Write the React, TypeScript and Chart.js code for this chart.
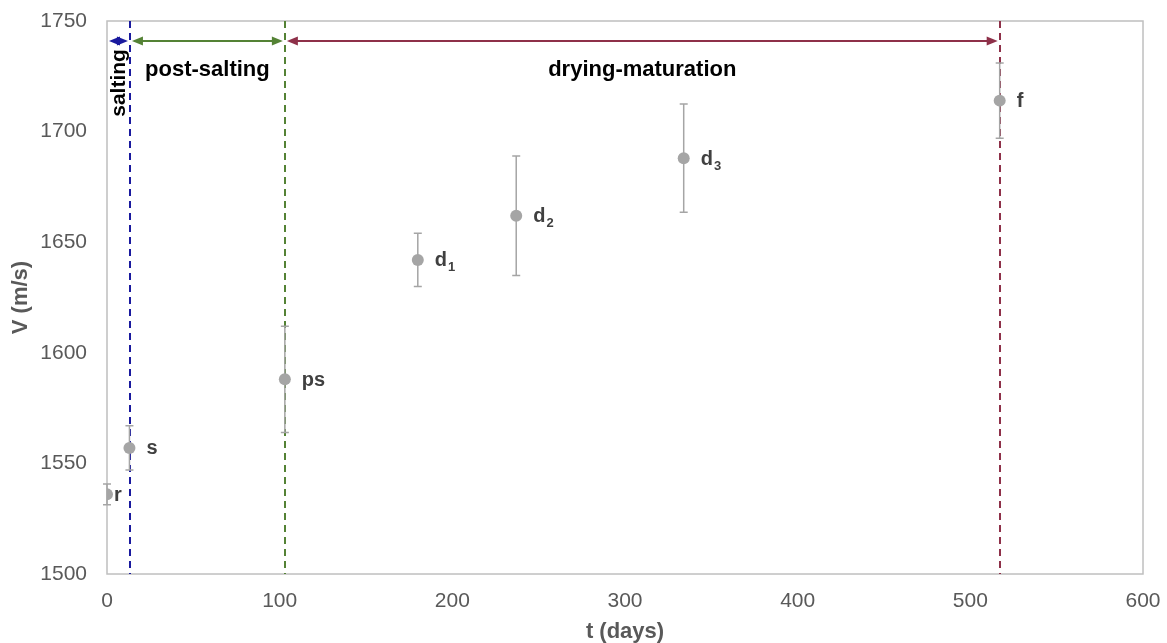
import React, { useEffect, useRef } from "react";
import { Chart, registerables } from "chart.js";

Chart.register(...registerables);

// Sampling times (days) and ultrasonic velocity (m/s) with standard deviations
const days = [0, 13, 103, 180, 237, 334, 517];
const velocity = [1536, 1557, 1588, 1642, 1662, 1688, 1714];
const stdDev = [4.7, 10, 24, 12, 27, 24.5, 17];
const pointNames = ["r", "s", "ps", "d", "d", "d", "f"];
const pointSubs = ["", "", "", "1", "2", "3", ""];

// Process stages: boundaries in days
const stageNames = ["salting", "post-salting", "drying-maturation"];
const stageBounds = [0, 13.3, 103, 517];
const stageColors = ["#1a1a9e", "#548235", "#8e3049"];

const xTicks = [0, 100, 200, 300, 400, 500, 600];

const FONT = "'Liberation Sans', Arial, sans-serif";

const overlayPlugin = {
  id: "overlay",
  beforeDatasetsDraw(chart: any) {
    const { ctx, chartArea, scales } = chart;
    const xs = scales.x;
    const ys = scales.y;
    ctx.save();
    // frame round the plot area
    ctx.strokeStyle = "#bfbfbf";
    ctx.lineWidth = 1.5;
    ctx.strokeRect(chartArea.left, chartArea.top, chartArea.right - chartArea.left, chartArea.bottom - chartArea.top);

    // dashed stage boundaries
    ctx.lineWidth = 2;
    ctx.setLineDash([7, 5]);
    for (let i = 1; i < stageBounds.length; i++) {
      const px = Math.round(xs.getPixelForValue(stageBounds[i]));
      ctx.strokeStyle = stageColors[i - 1];
      ctx.beginPath();
      ctx.moveTo(px, chartArea.top);
      ctx.lineTo(px, chartArea.bottom);
      ctx.stroke();
    }
    ctx.setLineDash([]);

    // error bars
    ctx.strokeStyle = "#a5a5a5";
    ctx.lineWidth = 1.5;
    for (let i = 0; i < days.length; i++) {
      const px = xs.getPixelForValue(days[i]);
      const hi = ys.getPixelForValue(velocity[i] + stdDev[i]);
      const lo = ys.getPixelForValue(velocity[i] - stdDev[i]);
      ctx.beginPath();
      ctx.moveTo(px, hi);
      ctx.lineTo(px, lo);
      ctx.moveTo(px - 4, hi);
      ctx.lineTo(px + 4, hi);
      ctx.moveTo(px - 4, lo);
      ctx.lineTo(px + 4, lo);
      ctx.stroke();
    }
    ctx.restore();
  },
  afterDatasetsDraw(chart: any) {
    const { ctx, scales } = chart;
    const xs = scales.x;
    const ys = scales.y;
    ctx.save();

    // stage arrows
    const ay = ys.getPixelForValue(1741);
    const head = 11;
    const hh = 4.5;
    for (let i = 0; i < stageNames.length; i++) {
      const x1 = xs.getPixelForValue(stageBounds[i]) + 2;
      const x2 = xs.getPixelForValue(stageBounds[i + 1]) - 2;
      ctx.strokeStyle = stageColors[i];
      ctx.fillStyle = stageColors[i];
      ctx.lineWidth = 2;
      ctx.beginPath();
      ctx.moveTo(x1 + head - 1, ay);
      ctx.lineTo(x2 - head + 1, ay);
      ctx.stroke();
      ctx.beginPath();
      ctx.moveTo(x1, ay);
      ctx.lineTo(x1 + head, ay - hh);
      ctx.lineTo(x1 + head, ay + hh);
      ctx.closePath();
      ctx.fill();
      ctx.beginPath();
      ctx.moveTo(x2, ay);
      ctx.lineTo(x2 - head, ay - hh);
      ctx.lineTo(x2 - head, ay + hh);
      ctx.closePath();
      ctx.fill();
    }

    // stage names
    ctx.fillStyle = "#000000";
    ctx.font = `bold 22px ${FONT}`;
    ctx.textBaseline = "middle";
    const ty = ys.getPixelForValue(1728);
    for (let i = 1; i < stageNames.length; i++) {
      const mid = (xs.getPixelForValue(stageBounds[i]) + xs.getPixelForValue(stageBounds[i + 1])) / 2;
      ctx.textAlign = "center";
      ctx.fillText(stageNames[i], mid, ty);
    }
    // rotated name of the short first stage
    const sx = (xs.getPixelForValue(stageBounds[0]) + xs.getPixelForValue(stageBounds[1])) / 2 + 1;
    ctx.save();
    ctx.translate(sx, ys.getPixelForValue(1722));
    ctx.rotate(-Math.PI / 2);
    ctx.textAlign = "center";
    ctx.font = `bold 21px ${FONT}`;
    ctx.fillText(stageNames[0], 0, 0);
    ctx.restore();

    // point labels with subscripts
    ctx.fillStyle = "#404040";
    ctx.textAlign = "left";
    ctx.textBaseline = "middle";
    for (let i = 0; i < days.length; i++) {
      const px = xs.getPixelForValue(days[i]) + (i === 0 ? 7 : 17);
      const py = ys.getPixelForValue(velocity[i]) + 1;
      ctx.font = `bold 20px ${FONT}`;
      ctx.fillText(pointNames[i], px, py);
      if (pointSubs[i]) {
        const w = ctx.measureText(pointNames[i]).width;
        ctx.font = `bold 13px ${FONT}`;
        ctx.fillText(pointSubs[i], px + w + 1, py + 7);
      }
    }
    ctx.restore();
  },
};

export default function App() {
  const canvasRef = useRef<HTMLCanvasElement | null>(null);

  useEffect(() => {
    document.body.style.margin = "0";
    const canvas = canvasRef.current;
    if (!canvas) return;
    const chart = new Chart(canvas, {
      type: "scatter",
      data: {
        datasets: [
          {
            data: days.map((d, i) => ({ x: d, y: velocity[i] })),
            backgroundColor: "#a5a5a5",
            borderColor: "#a5a5a5",
            pointRadius: 6,
            pointHoverRadius: 6,
            borderWidth: 0,
          },
        ],
      },
      options: {
        animation: false,
        responsive: false,
        maintainAspectRatio: false,
        layout: { padding: { top: 21, right: 24, left: 0, bottom: 0 } },
        plugins: {
          legend: { display: false },
          tooltip: { enabled: false },
        },
        scales: {
          x: {
            type: "linear",
            min: 0,
            max: 600,
            afterBuildTicks: (scale: any) => {
              scale.ticks = xTicks.map((v) => ({ value: v }));
            },
            afterFit: (scale: any) => {
              scale.height = 69;
              scale.paddingLeft = 0;
              scale.paddingRight = 0;
            },
            grid: { display: false, drawTicks: false },
            border: { display: false },
            ticks: {
              color: "#595959",
              font: { family: FONT, size: 21 },
              padding: 15,
              maxRotation: 0,
              callback: (v: any) => String(v),
            },
            title: {
              display: true,
              text: "t (days)",
              color: "#595959",
              font: { family: FONT, size: 22, weight: "bold", lineHeight: 1 },
              padding: { top: 0, bottom: 0 },
            },
          },
          y: {
            type: "linear",
            min: 1500,
            max: 1750,
            afterFit: (scale: any) => {
              scale.width = 107;
              scale.paddingTop = 0;
              scale.paddingBottom = 0;
            },
            grid: { display: false, drawTicks: false },
            border: { display: false },
            ticks: {
              stepSize: 50,
              color: "#595959",
              font: { family: FONT, size: 21 },
              padding: 20,
              callback: (v: any) => String(v),
            },
            title: {
              display: true,
              text: "V (m/s)",
              color: "#595959",
              font: { family: FONT, size: 22, weight: "bold" },
              padding: { top: 8, bottom: 0 },
            },
          },
        },
      },
      plugins: [overlayPlugin],
    });
    return () => chart.destroy();
  }, []);

  return (
    <div style={{ width: 1167, height: 643, background: "#ffffff" }}>
      <canvas ref={canvasRef} width={1167} height={643} style={{ display: "block" }} />
    </div>
  );
}
